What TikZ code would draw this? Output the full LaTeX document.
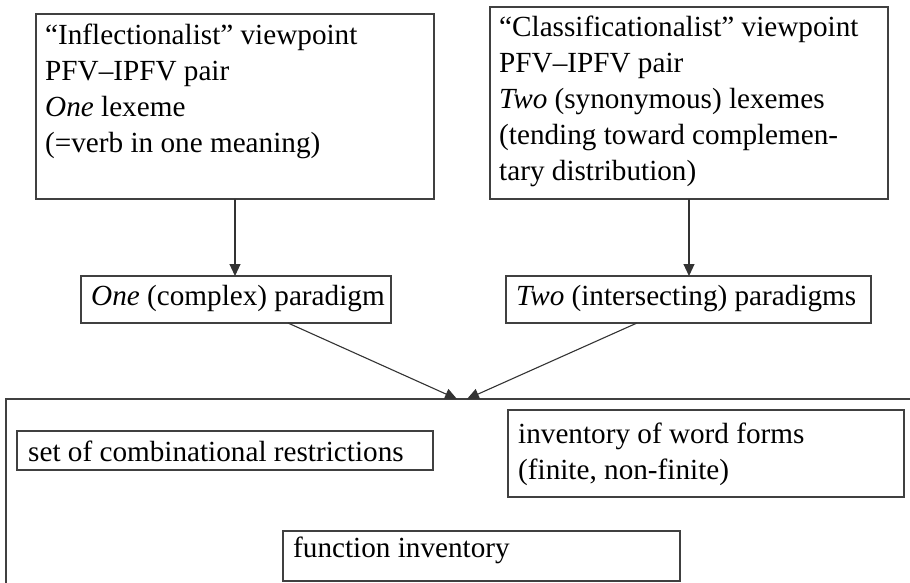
\documentclass[tikz,border=0pt]{standalone}
\usepackage{fontspec}
\setmainfont{Liberation Serif}
\usetikzlibrary{arrows.meta,calc}
\begin{document}
\begin{tikzpicture}[x=1pt,y=-1pt,
  box/.style={draw=black!75, line width=1.1pt, rectangle, inner sep=0pt, outer sep=0pt, anchor=north west},
  txt/.style={inner sep=0pt, anchor=base west, font=\fontsize{29.2}{36}\selectfont},
  arr/.style={draw=black!80, line width=1.1pt, -{Triangle[length=12pt,width=11pt]}}]
\useasboundingbox (0,0) rectangle (910,583);
% top boxes
\node[box, minimum width=398pt, minimum height=185pt] (A) at (36,14) {};
\node[txt] (At) at (45,45) {\parbox[t]{385pt}{“Inflectionalist” viewpoint\\PFV–IPFV pair\\\textit{One} lexeme\\(=verb in one meaning)}};
\node[box, minimum width=398pt, minimum height=192pt] (R) at (490,7) {};
\node[txt] (Rt) at (499,37) {\parbox[t]{385pt}{“Classificationalist” viewpoint\\PFV–IPFV pair\\\textit{Two} (synonymous) lexemes\\(tending toward complemen-\\tary distribution)}};
% paradigm boxes
\node[box, minimum width=310pt, minimum height=47pt] (B) at (81,276) {};
\node[txt] (Bt) at (91,305) {\textit{One} (complex) paradigm};
\node[box, minimum width=365pt, minimum height=47pt] (D) at (506,276) {};
\node[txt] (Dt) at (516,305) {\textit{Two} (intersecting) paradigms};
% big box
\node[rectangle, inner sep=0pt, outer sep=0pt, anchor=north west, minimum width=904pt, minimum height=184pt] (C) at (6,399) {};
\draw[draw=black!75, line width=1.1pt] (C.north east) -- (C.north west) -- (C.south west);
% inner boxes
\node[box, minimum width=416pt, minimum height=39pt] (E) at (17,431) {};
\node[txt] (Et) at (28,461) {set of combinational restrictions};
\node[box, minimum width=396pt, minimum height=87pt] (F) at (508,410) {};
\node[txt] (Ft) at (518,443) {\parbox[t]{385pt}{inventory of word forms\\(finite, non-finite)}};
\node[box, minimum width=397pt, minimum height=50pt] (G) at (283,531) {};
\node[txt] (Gt) at (293,557) {function inventory};
% arrows
\draw[arr] (A.south) -- (A.south |- B.north);
\draw[arr] (R.south) -- (R.south |- D.north);
\draw[arr] ($(B.south west)+(207,0)$) -- ($(C.north west)+(451,0)$);
\draw[arr] ($(D.south west)+(131,0)$) -- ($(C.north west)+(461,0)$);
\end{tikzpicture}
\end{document}
